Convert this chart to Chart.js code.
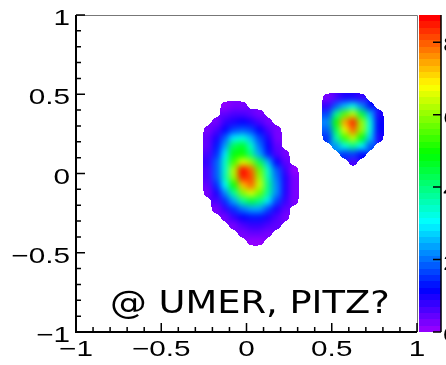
<!DOCTYPE html>
<html>
<head>
<meta charset="utf-8">
<script src="https://cdn.jsdelivr.net/npm/chart.js@4"></script>
<style>
  html, body { margin: 0; padding: 0; background: #fff; overflow: hidden; }
</style>
</head>
<body>
<canvas id="c" width="446" height="365"></canvas>
<script>
// axis ticks
const X_TICKS = [-1, -0.5, 0, 0.5, 1];
const Y_TICKS = [-1, -0.5, 0, 0.5, 1];
const Z_TICKS = [0, 2, 4, 6, 8];
const Z_MAX = 8.75;
const BIN = 0.05;
const NOTE = '@ UMER, PITZ?';

// big spot, bin centres
const spotA_x = [-0.275, -0.225, -0.175, -0.125, -0.075, -0.025, 0.025, 0.075, 0.125, 0.175, 0.225, 0.275];
const spotA_y = [0.425, 0.375, 0.325, 0.275, 0.225, 0.175, 0.125, 0.075, 0.025, -0.025, -0.075, -0.125, -0.175, -0.225, -0.275, -0.325, -0.375, -0.425];
const spotA = [
    [0, 0, 0, 0.15, 0.25, 0.25, 0, 0, 0, 0, 0, 0],
    [0, 0, 0, 0.4, 0.55, 0.6, 0.45, 0.2, 0, 0, 0, 0],
    [0, 0, 0.3, 0.7, 1.0, 1.1, 0.9, 0.6, 0.25, 0, 0, 0],
    [0, 0.2, 0.6, 1.2, 1.7, 1.9, 1.6, 1.1, 0.6, 0.2, 0, 0],
    [0, 0.4, 1.0, 1.9, 2.8, 3.2, 2.6, 1.7, 0.9, 0.3, 0, 0],
    [0, 0.5, 1.3, 2.4, 4.2, 4.6, 3.4, 2.0, 1.1, 0.5, 0, 0],
    [0, 0.6, 1.5, 2.8, 4.8, 5.0, 3.9, 2.3, 1.3, 0.6, 0.2, 0],
    [0, 0.7, 1.9, 3.4, 5.3, 6.6, 6.0, 4.2, 2.5, 1.2, 0.4, 0],
    [0, 0.6, 1.8, 3.4, 6.2, 8.6, 7.9, 5.7, 3.4, 1.8, 0.8, 0.15],
    [0, 0.6, 1.8, 3.5, 6.0, 8.5, 8.2, 6.0, 3.6, 2.0, 0.9, 0.2],
    [0, 0.5, 1.5, 3.0, 5.0, 7.2, 8.0, 6.3, 4.0, 2.2, 1.0, 0.3],
    [0, 0.3, 1.0, 2.2, 3.7, 5.8, 6.6, 5.6, 3.7, 2.1, 0.9, 0.3],
    [0, 0, 0.6, 1.4, 2.4, 3.8, 4.4, 4.0, 2.8, 1.6, 0.8, 0.2],
    [0, 0, 0.2, 0.8, 1.4, 2.0, 2.4, 2.3, 1.7, 1.0, 0.5, 0],
    [0, 0, 0, 0.25, 0.7, 1.1, 1.3, 1.3, 1.0, 0.6, 0.25, 0],
    [0, 0, 0, 0, 0.3, 0.6, 0.8, 0.8, 0.6, 0.35, 0, 0],
    [0, 0, 0, 0, 0, 0.3, 0.45, 0.45, 0.3, 0, 0, 0],
    [0, 0, 0, 0, 0, 0, 0.15, 0.15, 0, 0, 0, 0],
];

// small spot, bin centres
const spotB_x = [0.475, 0.525, 0.575, 0.625, 0.675, 0.725, 0.775];
const spotB_y = [0.475, 0.425, 0.375, 0.325, 0.275, 0.225, 0.175, 0.125, 0.075];
const spotB = [
    [0.3, 0.6, 0.9, 1.0, 0.75, 0, 0],
    [0.8, 1.8, 2.6, 3.3, 2.1, 1.2, 0],
    [1.6, 3.7, 5.5, 6.3, 4.5, 2.5, 0.9],
    [2.2, 5.0, 7.4, 8.5, 6.1, 3.3, 1.2],
    [1.8, 4.3, 6.6, 7.9, 6.0, 3.3, 1.2],
    [1.4, 3.5, 5.3, 6.3, 4.8, 2.7, 1.0],
    [0, 2.1, 3.3, 3.9, 3.0, 1.7, 0],
    [0, 0, 1.4, 1.6, 1.2, 0, 0],
    [0, 0, 0, 0.6, 0, 0, 0],
];

function toCells(xs, ys, grid) {
    const out = [];
    grid.forEach((row, i) => row.forEach((v, j) => {
        if (v > 0) out.push({ x: xs[j], y: ys[i], v });
    }));
    return out;
}
const cells = toCells(spotA_x, spotA_y, spotA).concat(toCells(spotB_x, spotB_y, spotB));

// ROOT "pretty" palette: 50 hues from violet down to red
const NCOL = 50;
function zColor(v) {
    let i = Math.floor(v / Z_MAX * NCOL);
    i = Math.max(0, Math.min(NCOL - 1, i));
    return `hsl(${280 - (i + 1) * 280 / NCOL}, 100%, 50%)`;
}
const fmt = (v) => (v < 0 ? '\u2212' : '') + Math.abs(v);

const LABEL_FONT = '22px "Liberation Sans", Arial, sans-serif';
const LABEL_SX = 1.35;

function stretchedText(ctx, txt, x, y, sx, align) {
    ctx.save();
    ctx.translate(x, y);
    ctx.scale(sx, 1);
    ctx.textAlign = align;
    ctx.fillText(txt, 0, 0);
    ctx.restore();
}

// cells go to an offscreen layer, get a soft blur so the coarse bins
// read like the smooth original, then the edge is made hard again
const heatPlugin = {
    id: 'heat',
    beforeDatasetsDraw(chart) {
        const { ctx, scales: { x, y } } = chart;
        const w = chart.width, h = chart.height;
        const raw = document.createElement('canvas');
        raw.width = w; raw.height = h;
        const rc = raw.getContext('2d');
        chart.data.datasets[0].data.forEach((c) => {
            const l = Math.round(x.getPixelForValue(c.x - BIN / 2));
            const r = Math.round(x.getPixelForValue(c.x + BIN / 2));
            const t = Math.round(y.getPixelForValue(c.y + BIN / 2));
            const b = Math.round(y.getPixelForValue(c.y - BIN / 2));
            rc.fillStyle = zColor(c.v);
            rc.fillRect(l, t, r - l, b - t);
        });
        const soft = document.createElement('canvas');
        soft.width = w; soft.height = h;
        const sc = soft.getContext('2d');
        sc.filter = 'blur(3px)';
        sc.drawImage(raw, 0, 0);
        const img = sc.getImageData(0, 0, w, h);
        const d = img.data;
        for (let i = 3; i < d.length; i += 4) d[i] = d[i] >= 110 ? 255 : 0;
        sc.putImageData(img, 0, 0);
        ctx.drawImage(soft, 0, 0);
    },
};

const framePlugin = {
    id: 'frame',
    afterDatasetsDraw(chart) {
        const { ctx, chartArea: a, scales: { x, y, z } } = chart;
        ctx.save();

        // thin frame top / right
        ctx.strokeStyle = '#777';
        ctx.lineWidth = 1;
        ctx.beginPath();
        ctx.moveTo(a.left, a.top + 0.5);
        ctx.lineTo(a.right + 0.5, a.top + 0.5);
        ctx.lineTo(a.right + 0.5, a.bottom);
        ctx.stroke();

        // axes
        ctx.strokeStyle = '#000';
        ctx.lineWidth = 2;
        ctx.beginPath();
        ctx.moveTo(a.left, a.top);
        ctx.lineTo(a.left, a.bottom);
        ctx.lineTo(a.right, a.bottom);
        ctx.stroke();

        // ticks, minor every 0.1
        ctx.lineWidth = 1.5;
        ctx.beginPath();
        for (let k = -10; k <= 10; k++) {
            const v = k / 10;
            const len = k % 5 === 0 ? 9 : 5;
            const px = x.getPixelForValue(v);
            ctx.moveTo(px, a.bottom);
            ctx.lineTo(px, a.bottom - len);
            const py = y.getPixelForValue(v);
            ctx.moveTo(a.left, py);
            ctx.lineTo(a.left + len, py);
        }
        ctx.stroke();

        // tick labels
        ctx.fillStyle = '#000';
        ctx.font = LABEL_FONT;
        ctx.textBaseline = 'alphabetic';
        X_TICKS.forEach((v) => stretchedText(ctx, fmt(v), x.getPixelForValue(v), 356, LABEL_SX, 'center'));
        ctx.textBaseline = 'middle';
        Y_TICKS.forEach((v) => stretchedText(ctx, fmt(v), a.left - 6, y.getPixelForValue(v) + 4, LABEL_SX, 'right'));

        // colour bar
        const bl = z.left + 2, bw = 22;
        for (let i = 0; i < NCOL; i++) {
            const y0 = Math.round(z.getPixelForValue(i * Z_MAX / NCOL));
            const y1 = Math.round(z.getPixelForValue((i + 1) * Z_MAX / NCOL));
            ctx.fillStyle = zColor((i + 0.5) * Z_MAX / NCOL);
            ctx.fillRect(bl, y1, bw, y0 - y1);
        }
        ctx.strokeStyle = '#000';
        ctx.lineWidth = 1.5;
        ctx.beginPath();
        ctx.moveTo(bl + bw, z.top);
        ctx.lineTo(bl + bw, z.bottom);
        Z_TICKS.forEach((v) => {
            const py = z.getPixelForValue(v);
            ctx.moveTo(bl + bw, py);
            ctx.lineTo(bl + bw - 8, py);
        });
        ctx.stroke();
        ctx.fillStyle = '#000';
        ctx.textBaseline = 'middle';
        Z_TICKS.forEach((v) => stretchedText(ctx, fmt(v), bl + bw + 2, z.getPixelForValue(v) + 4, LABEL_SX, 'left'));

        // annotation
        ctx.font = '32px "DejaVu Sans", sans-serif';
        ctx.textBaseline = 'alphabetic';
        stretchedText(ctx, NOTE, 110, 313, 1.15, 'left');
        ctx.restore();
    },
};

new Chart(document.getElementById('c'), {
    type: 'scatter',
    data: { datasets: [{ data: cells, pointRadius: 0, pointHoverRadius: 0 }] },
    options: {
        responsive: false,
        animation: false,
        layout: { padding: { top: 15, left: 0, right: 0, bottom: 0 } },
        plugins: { legend: { display: false }, tooltip: { enabled: false } },
        scales: {
            x: { type: 'linear', min: -1, max: 1, grid: { display: false }, border: { display: false }, ticks: { display: false }, afterFit(s) { s.height = 33; } },
            y: { type: 'linear', min: -1, max: 1, grid: { display: false }, border: { display: false }, ticks: { display: false }, afterFit(s) { s.width = 76; } },
            z: { type: 'linear', position: 'right', min: 0, max: Z_MAX, grid: { display: false }, border: { display: false }, ticks: { display: false }, afterFit(s) { s.width = 29; } },
        },
    },
    plugins: [heatPlugin, framePlugin],
});
</script>
</body>
</html>
